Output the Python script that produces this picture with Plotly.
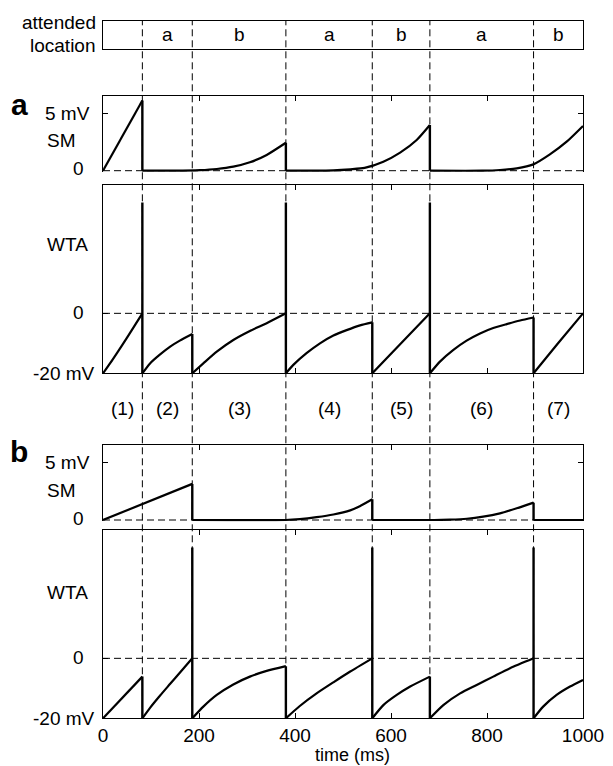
import plotly.graph_objects as go

# ---------------------------------------------------------------- data
T_MAX = 1000
SHIFT_TIMES = [82, 186, 381, 561, 681, 897]          # attention shifts (ms)
ATTEND_LABELS = ["a", "b", "a", "b", "a", "b"]        # attended location after each shift
PERIOD_LABELS = ["(1)", "(2)", "(3)", "(4)", "(5)", "(6)", "(7)"]
X_TICKS = [0, 200, 400, 600, 800, 1000]

WTA_REST = -20.0   # mV, reset potential of the WTA neuron
SPIKE_PEAK = 37.0  # mV, drawn height of a WTA spike

# panel a: saliency map (SM) potential, one list per inter-shift segment
SM_A_T = [[0, 82],
          [82, 150, 202, 237, 271.5, 306, 341, 381],
          [381, 440, 480, 515, 545, 584, 619, 653.5, 681],
          [681, 790, 827, 862, 896.5, 931, 966, 1000]]
SM_A_V = [[0, 6.1],
          [0, 0, 0.05, 0.15, 0.35, 0.73, 1.37, 2.43],
          [0, 0, 0.03, 0.12, 0.24, 0.78, 1.57, 2.67, 3.97],
          [0, 0, 0.06, 0.2, 0.55, 1.42, 2.52, 3.89]]

# panel a: winner-take-all (WTA) potential
WTA_A_T = [[0, 20, 40, 60, 82],
           [82, 98, 119, 140, 160, 186],
           [186, 209, 237, 271.5, 306, 341, 381],
           [381, 396.5, 424, 452, 480, 507.5, 535.5, 561],
           [561, 621, 681],
           [681, 702, 730, 757.5, 785.5, 813, 841, 869, 897],
           [897, 948, 1000]]
WTA_A_V = [[-20, -15.4, -10.6, -5.6, 0],
           [-20, -16.7, -13.7, -11.1, -9.1, -6.9],
           [-20, -16.7, -12.8, -8.9, -5.9, -3.3, 0],
           [-20, -17.2, -13.3, -10.0, -7.4, -5.6, -4.0, -3.0],
           [-20, -10, 0],
           [-20, -16.1, -12.2, -9.1, -6.7, -4.9, -3.6, -2.4, -1.4],
           [-20, -10, 0]]
WTA_A_SPIKES = [82, 381, 681]

# panel b: saliency map potential
SM_B_T = [[0, 186],
          [186, 380, 410, 445, 480, 515, 535, 561],
          [561, 690, 723, 758, 792, 827, 862, 897],
          [897, 1000]]
SM_B_V = [[0, 3.14],
          [0, 0, 0.08, 0.25, 0.48, 0.84, 1.2, 1.8],
          [0, 0, 0.03, 0.11, 0.29, 0.58, 1.02, 1.51],
          [0, 0]]

# panel b: WTA potential
WTA_B_T = [[0, 82],
           [82, 98, 119, 140, 160, 186],
           [186, 209, 237, 271.5, 306, 341, 381],
           [381, 410, 445, 480, 515, 561],
           [561, 584, 612, 640, 681],
           [681, 709, 744, 778.5, 813, 848, 897],
           [897, 917, 945, 973, 1000]]
WTA_B_V = [[-20, -6.1],
           [-20, -16.5, -12.4, -8.5, -4.8, 0],
           [-20, -16.1, -12.2, -8.7, -6.1, -4.2, -2.6],
           [-20, -15.9, -11.7, -8.0, -4.4, 0],
           [-20, -15.6, -12.2, -9.4, -6.1],
           [-20, -15.6, -11.7, -8.9, -6.1, -3.3, 0],
           [-20, -16.1, -12.2, -9.4, -7.2]]
WTA_B_SPIKES = [186, 561, 897]

# ---------------------------------------------------------------- layout
W, H = 613, 766
FONT = "Liberation Sans, Arial, Helvetica, sans-serif"
FS = 19
SM_RANGE = [-0.12, 6.52]
WTA_RANGE = [-20, 42.8]


def dom(top_px, bottom_px):
    return [1 - bottom_px / H, 1 - top_px / H]


fig = go.Figure()


def draw_trace(seg_t, seg_v, ax, spikes=(), peak=None):
    xa, ya = ("x", "y") if ax == 1 else (f"x{ax}", f"y{ax}")
    for t, v in zip(seg_t, seg_v):
        fig.add_trace(go.Scatter(
            x=t, y=v, mode="lines", xaxis=xa, yaxis=ya,
            line=dict(color="black", width=2.2, shape="spline", smoothing=0.6),
            hoverinfo="skip", showlegend=False))
    # vertical resets (and spikes) between consecutive segments
    rx, ry = [], []
    for (t0, v0), (t1, v1) in zip(zip(seg_t, seg_v), zip(seg_t[1:], seg_v[1:])):
        t = t0[-1]
        top = peak if t in spikes else v0[-1]
        rx += [t, t, None]
        ry += [top, v1[0], None]
    fig.add_trace(go.Scatter(
        x=rx, y=ry, mode="lines", xaxis=xa, yaxis=ya,
        line=dict(color="black", width=2.4),
        hoverinfo="skip", showlegend=False))


draw_trace(WTA_B_T, WTA_B_V, 1, WTA_B_SPIKES, SPIKE_PEAK)
draw_trace(SM_B_T, SM_B_V, 2)
draw_trace(WTA_A_T, WTA_A_V, 3, WTA_A_SPIKES, SPIKE_PEAK)
draw_trace(SM_A_T, SM_A_V, 4)

# attended-location strip (empty trace just to create the axes)
fig.add_trace(go.Scatter(x=[None], y=[None], xaxis="x5", yaxis="y5",
                         showlegend=False, hoverinfo="skip"))

axis_common = dict(range=[0, T_MAX], showgrid=False, zeroline=False,
                   linecolor="black", linewidth=1, ticks="inside", ticklen=5,
                   tickcolor="black", tickwidth=1, tickvals=X_TICKS,
                   tickfont=dict(family=FONT, size=FS, color="black"))

yaxis_common = dict(showgrid=False, zeroline=False, showline=True,
                    linecolor="black", linewidth=1, ticks="inside", ticklen=5,
                    tickcolor="black", tickwidth=1, mirror="ticks",
                    showticklabels=False)

fig.update_layout(
    width=W, height=H,
    margin=dict(l=103, r=30, t=0, b=0),
    paper_bgcolor="white", plot_bgcolor="white",
    font=dict(family=FONT, size=FS, color="black"),
    showlegend=False,
    # WTA, panel b (bottom, carries the time labels)
    xaxis=dict(**axis_common, domain=[0, 1], anchor="y", showline=True,
               mirror="ticks", showticklabels=True, ticklabelstandoff=0),
    yaxis=dict(**yaxis_common, domain=dom(530, 718.3), range=WTA_RANGE,
               anchor="x", tickvals=[-20, 0]),
    # SM, panel b
    xaxis2=dict(**axis_common, domain=[0, 1], anchor="y2", matches="x",
                side="top", showline=True, mirror=False, showticklabels=False),
    yaxis2=dict(**yaxis_common, domain=dom(445, 520 + 0.12 * 11.5),
                range=SM_RANGE, anchor="x2", tickvals=[5]),
    # WTA, panel a
    xaxis3=dict(**axis_common, domain=[0, 1], anchor="y3", matches="x",
                showline=True, mirror="ticks", showticklabels=False),
    yaxis3=dict(**yaxis_common, domain=dom(185, 373.3), range=WTA_RANGE,
                anchor="x3", tickvals=[-20, 0]),
    # SM, panel a
    xaxis4=dict(**axis_common, domain=[0, 1], anchor="y4", matches="x",
                side="top", showline=True, mirror=False, showticklabels=False),
    yaxis4=dict(**yaxis_common, domain=dom(95.7, 170.7 + 0.12 * 11.5),
                range=SM_RANGE, anchor="x4", tickvals=[5]),
    # attended-location strip
    xaxis5=dict(range=[0, T_MAX], domain=[0, 1], anchor="y5", matches="x",
                showgrid=False, zeroline=False, showline=True, mirror=True,
                linecolor="black", linewidth=1, ticks="", showticklabels=False),
    yaxis5=dict(range=[0, 1], domain=dom(21, 49), anchor="x5",
                showgrid=False, zeroline=False, showline=True, mirror=True,
                linecolor="black", linewidth=1, ticks="", showticklabels=False),
)

shapes = []
DASH = "7px,4px"
# attention-shift markers running through every panel
for t in SHIFT_TIMES:
    shapes.append(dict(type="line", xref="x", yref="paper",
                       x0=t, x1=t, y0=1 - 718.3 / H, y1=1 - 21 / H,
                       line=dict(color="black", width=1, dash=DASH),
                       layer="below"))
# zero-potential reference lines
for ax in ("y", "y3", "y2", "y4"):
    shapes.append(dict(type="line", xref="x domain", yref=ax, x0=0, x1=1,
                       y0=0, y1=0, line=dict(color="black", width=1, dash=DASH),
                       layer="below"))
fig.update_layout(shapes=shapes)

ann = []


def txt(text, x, y, xref="paper", yref="paper", xanchor="center", size=FS,
        yshift=0):
    ann.append(dict(text=text, x=x, y=y, xref=xref, yref=yref,
                    xanchor=xanchor, yanchor="middle", showarrow=False,
                    yshift=yshift, font=dict(family=FONT, size=size,
                                             color="black")))


def px_x(px):
    return (px - 103) / 480.0


# strip title and labels
txt("attended", px_x(98), 1 - 23 / H, xanchor="right")
txt("location", px_x(98), 1 - 45 / H, xanchor="right")
bounds = SHIFT_TIMES + [T_MAX]
for lab, a, b in zip(ATTEND_LABELS, bounds[:-1], bounds[1:]):
    txt(lab, (a + b) / 2, 0.5, xref="x5", yref="y5")

# period numbers between the two panels
pbounds = [0] + SHIFT_TIMES + [T_MAX]
for lab, a, b in zip(PERIOD_LABELS, pbounds[:-1], pbounds[1:]):
    txt(lab, (a + b) / 2, 1 - 409 / H, xref="x")

# panel letters
txt("<b>a</b>", px_x(19), 1 - 105 / H, size=30)
txt("<b>b</b>", px_x(19), 1 - 452 / H, size=30)

# y-axis labels for each panel
for sm_ax, wta_ax, wta_name_v in (("y4", "y3", 23), ("y2", "y", 22)):
    txt("5 mV", px_x(92), 5, yref=sm_ax, xanchor="right")
    txt("SM", px_x(77.5), 2.6, yref=sm_ax, xanchor="right")
    txt("0", px_x(86), 0, yref=sm_ax, xanchor="right", yshift=2)
    txt("WTA", px_x(90), wta_name_v, yref=wta_ax, xanchor="right")
    txt("0", px_x(86), 0, yref=wta_ax, xanchor="right", yshift=1)
    txt("-20 mV", px_x(97), -20, yref=wta_ax, xanchor="right")

txt("time (ms)", px_x(352), 1 - 755 / H, size=18)
fig.update_layout(annotations=ann)

fig.write_html("out.html")
